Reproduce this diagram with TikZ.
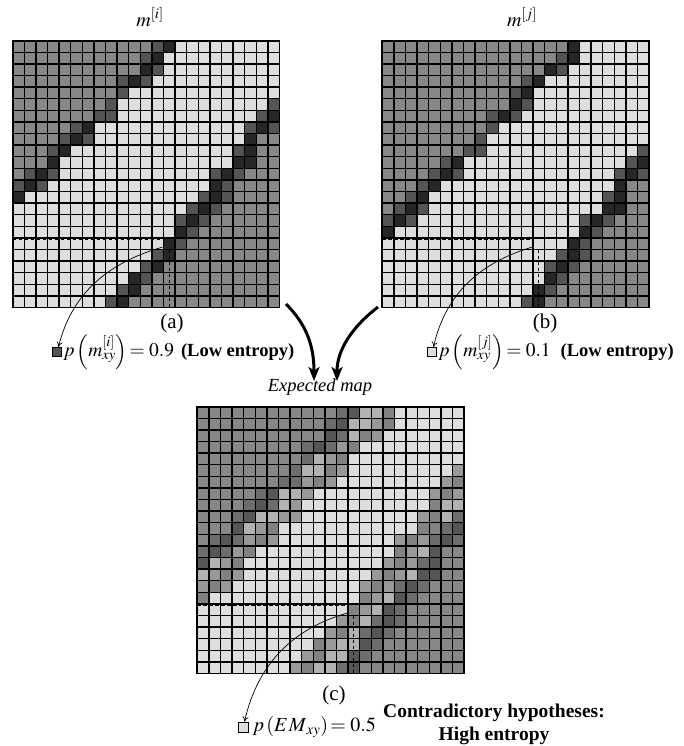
\documentclass[tikz,border=0pt]{standalone}
\usepackage{mathptmx}
\usepackage{fontspec}
\setmainfont{Liberation Serif}
\usetikzlibrary{arrows.meta}
\definecolor{cL}{gray}{0.87}
\definecolor{cM}{gray}{0.53}
\definecolor{cD}{gray}{0.33}
\definecolor{cK}{gray}{0.15}
\def\cs{11.6}
\newcount\runcol
\newcommand\maprow[4]{%
  \global\runcol=0
  \foreach \rn/\lv in {#4}{%
    \fill[fill=c\lv] ({#1+\the\runcol*\cs},{#2+#3*\cs}) rectangle ++({\rn*\cs},{\cs});
    \global\advance\runcol by \rn\relax
  }%
}
\newcommand\mapA[2]{%
  \maprow{#1}{#2}{0}{12/M,1/D,1/K,9/L}
  \maprow{#1}{#2}{1}{11/M,1/D,1/K,10/L}
  \maprow{#1}{#2}{2}{11/M,1/K,1/D,10/L}
  \maprow{#1}{#2}{3}{9/M,1/D,1/K,1/D,11/L}
  \maprow{#1}{#2}{4}{9/M,1/D,13/L}
  \maprow{#1}{#2}{5}{8/M,1/D,13/L,1/D}
  \maprow{#1}{#2}{6}{7/M,2/D,12/L,1/D,1/K}
  \maprow{#1}{#2}{7}{5/M,1/D,1/K,13/L,1/D,1/K,1/D}
  \maprow{#1}{#2}{8}{4/M,1/D,1/K,1/D,13/L,1/K,2/M}
  \maprow{#1}{#2}{9}{3/M,1/D,1/K,14/L,1/D,1/K,2/M}
  \maprow{#1}{#2}{10}{3/M,1/K,15/L,2/K,2/M}
  \maprow{#1}{#2}{11}{1/M,1/D,1/K,1/D,13/L,1/D,1/K,1/D,3/M}
  \maprow{#1}{#2}{12}{1/D,1/K,1/D,14/L,1/K,1/D,4/M}
  \maprow{#1}{#2}{13}{1/K,15/L,1/D,1/K,1/D,4/M}
  \maprow{#1}{#2}{14}{15/L,1/D,1/K,1/D,5/M}
  \maprow{#1}{#2}{15}{14/L,1/D,1/K,1/D,6/M}
  \maprow{#1}{#2}{16}{14/L,1/K,1/D,7/M}
  \maprow{#1}{#2}{17}{13/L,1/K,1/D,8/M}
  \maprow{#1}{#2}{18}{12/L,1/D,1/K,9/M}
  \maprow{#1}{#2}{19}{11/L,1/D,1/K,10/M}
  \maprow{#1}{#2}{20}{10/L,1/K,1/D,11/M}
  \maprow{#1}{#2}{21}{9/L,1/D,1/K,12/M}
  \maprow{#1}{#2}{22}{8/L,1/D,1/K,13/M}
}
\newcommand\mapB[2]{%
  \maprow{#1}{#2}{0}{16/M,1/K,6/L}
  \maprow{#1}{#2}{1}{15/M,1/D,1/K,6/L}
  \maprow{#1}{#2}{2}{14/M,1/K,1/D,7/L}
  \maprow{#1}{#2}{3}{12/M,1/D,1/K,9/L}
  \maprow{#1}{#2}{4}{11/M,1/D,1/K,10/L}
  \maprow{#1}{#2}{5}{11/M,1/K,1/D,10/L}
  \maprow{#1}{#2}{6}{9/M,1/D,1/K,1/D,11/L}
  \maprow{#1}{#2}{7}{9/M,1/D,13/L}
  \maprow{#1}{#2}{8}{8/M,1/D,14/L}
  \maprow{#1}{#2}{9}{7/M,2/D,13/L,1/D}
  \maprow{#1}{#2}{10}{5/M,1/D,1/K,14/L,1/D,1/K}
  \maprow{#1}{#2}{11}{4/M,1/D,1/K,1/D,13/L,1/D,1/K,1/D}
  \maprow{#1}{#2}{12}{3/M,1/D,1/K,15/L,1/K,2/M}
  \maprow{#1}{#2}{13}{2/M,1/D,1/K,15/L,1/D,1/K,2/M}
  \maprow{#1}{#2}{14}{1/M,1/D,1/K,1/D,15/L,2/K,2/M}
  \maprow{#1}{#2}{15}{1/D,1/K,1/D,14/L,1/D,1/K,1/D,3/M}
  \maprow{#1}{#2}{16}{1/K,16/L,1/K,1/D,4/M}
  \maprow{#1}{#2}{17}{16/L,1/K,1/D,5/M}
  \maprow{#1}{#2}{18}{15/L,1/D,1/K,1/D,5/M}
  \maprow{#1}{#2}{19}{14/L,1/D,1/K,1/D,6/M}
  \maprow{#1}{#2}{20}{14/L,1/K,1/D,7/M}
  \maprow{#1}{#2}{21}{13/L,1/K,1/D,8/M}
  \maprow{#1}{#2}{22}{12/L,1/D,1/K,9/M}
}
\newcommand\gridlines[2]{%
  \foreach \i in {1,...,22}{%
    \draw[gline] ({#1+\i*\cs},{#2}) -- ++(0,{23*\cs});
    \draw[gline] ({#1},{#2+\i*\cs}) -- ++({23*\cs},0);
  }%
}
\newcommand\selmarks[2]{%
  \draw[seldash] ({#1},{#2+17.15*\cs}) -- ({#1+13*\cs},{#2+17.15*\cs});
  \draw[seldash] ({#1+13.5*\cs},{#2+18*\cs}) -- ({#1+13.5*\cs},{#2+23*\cs});
}
\newcommand\mathsz{\fontsize{19.5}{22}\selectfont}
\newcommand\txtsz{\fontsize{18.5}{21}\selectfont}
\tikzset{
  gline/.style={line width=1.4pt, black},
  gborder/.style={draw=black, line width=1.8pt, minimum size=23*11.6pt, inner sep=0pt, outer sep=0pt},
  seldash/.style={line width=1.1pt, dash pattern=on 3.5pt off 2.5pt, black},
  thinarrow/.style={line width=0.7pt, -{To[length=5pt,width=6pt]}},
  thickarrow/.style={line width=3pt, -{Stealth[length=14pt,width=11pt,inset=3.5pt]}},
  smallsq/.style={draw=black, line width=0.8pt, minimum size=9.5pt, inner sep=0pt},
  lbl/.style={font=\fontsize{21}{24}\selectfont, inner sep=1pt},
  fml/.style={inner sep=1pt, anchor=west},
}
\begin{document}
\begin{tikzpicture}[x=1pt,y=-1pt]
\useasboundingbox (0,0) rectangle (683,746);
\fill[white] (0,0) rectangle (683,746);
% grid (a)
\mapA{12.7}{40.7}
\gridlines{12.7}{40.7}
\node[gborder] (ga) at ({12.7+11.5*\cs},{40.7+11.5*\cs}) {};
\selmarks{12.7}{40.7}
% grid (b)
\mapB{382.3}{40.7}
\gridlines{382.3}{40.7}
\node[gborder] (gb) at ({382.3+11.5*\cs},{40.7+11.5*\cs}) {};
\selmarks{382.3}{40.7}
% grid (c): expected map = mean of (a) and (b)
\mapA{197.3}{406.7}
\begin{scope}[fill opacity=0.5]
\mapB{197.3}{406.7}
\end{scope}
\gridlines{197.3}{406.7}
\node[gborder] (gc) at ({197.3+11.5*\cs},{406.7+11.5*\cs}) {};
\selmarks{197.3}{406.7}
% titles
\node[lbl, font=\fontsize{20}{24}\selectfont] (mi) at (150,17) {$m^{[i]}$};
\node[lbl, font=\fontsize{20}{24}\selectfont] (mj) at (522,17) {$m^{[j]}$};
\node[lbl] (la) at (172,323) {(a)};
\node[lbl] (lb) at (545,323) {(b)};
\node[lbl, font=\fontsize{18.5}{22}\selectfont\itshape] (em) at (320,387) {Expected map};
\node[lbl] (lc) at (334,695) {(c)};
% formula (a)
\node[smallsq, fill=cD] (sqa) at (57,352) {};
\node[fml] (fa) at (sqa.east) {{\mathsz$p\left(m^{[i]}_{xy}\right)\!=0.9$}\hspace{7pt}{\txtsz\textbf{(Low entropy)}}};
% formula (b)
\node[smallsq, fill=cL] (sqb) at (432,352) {};
\node[fml] (fb) at (sqb.east) {{\mathsz$p\left(m^{[j]}_{xy}\right)\!=0.1$}\hspace{10pt}{\txtsz\textbf{(Low entropy)}}};
% formula (c)
\node[smallsq, fill=cL, minimum size=10pt] (sqc) at (243,727) {};
\node[fml, font=\fontsize{20}{24}\selectfont] (fc) at ([xshift=3pt]sqc.east) {$p\left(E\mkern1mu M_{\,xy}\right)\!=0.5$};
\node[font=\fontsize{19.5}{23}\selectfont\bfseries, align=center, inner sep=1pt] (hc) at (494,724) {Contradictory hypotheses:\\High entropy};
% selected cells
\coordinate (ca) at ({12.7+12.9*\cs},{40.7+17.8*\cs});
\coordinate (cb) at ({382.3+12.9*\cs},{40.7+17.8*\cs});
\coordinate (cc) at ({197.3+12.9*\cs},{406.7+17.8*\cs});
\draw[thinarrow] (ca) .. controls (110,262) and (72,292) .. ([xshift=1.5pt]sqa.north);
\draw[thinarrow] (cb) .. controls (482,262) and (446,292) .. ([xshift=1.5pt]sqb.north);
\draw[thinarrow] (cc) .. controls (295,628) and (258,662) .. ([xshift=1.5pt]sqc.north);
% thick arrows
\coordinate (ta) at (286,304);
\coordinate (tb) at (378,307);
\coordinate (tipa) at (314,381);
\coordinate (tipb) at (337,381);
\draw[thickarrow] (ta) .. controls (306,324) and (314,345) .. (tipa);
\draw[thickarrow] (tb) .. controls (352,327) and (337,350) .. (tipb);
\end{tikzpicture}
\end{document}
